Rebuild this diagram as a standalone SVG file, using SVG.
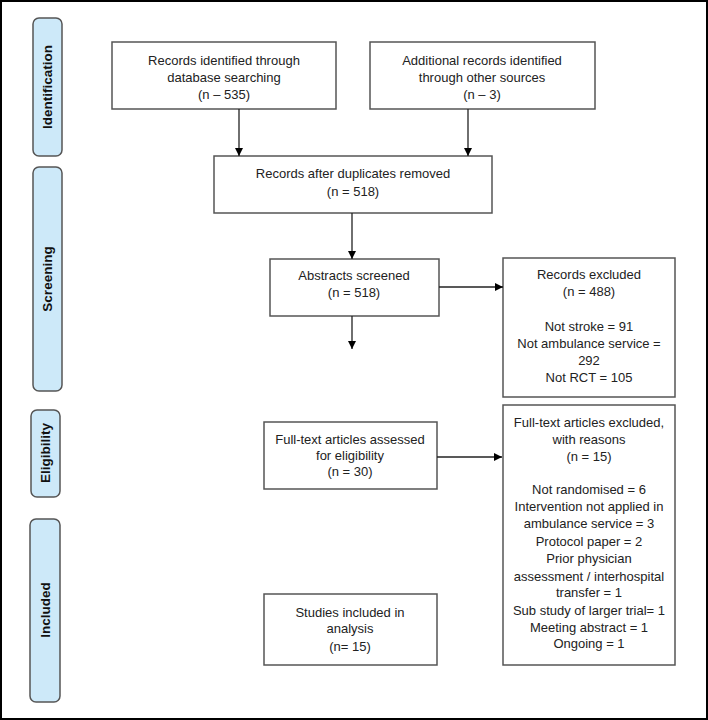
<svg xmlns="http://www.w3.org/2000/svg" width="708" height="720" viewBox="0 0 708 720">
<defs>
<marker id="ah" markerWidth="8" markerHeight="8" refX="8" refY="4" orient="auto" markerUnits="userSpaceOnUse">
<path d="M0,0 L8,4 L0,8 Z" fill="#000"/>
</marker>
<style>
.box{fill:#fff;stroke:#555;stroke-width:1.5}
.side{fill:#cde9f9;stroke:#555;stroke-width:1.5}
.t{font-family:"Liberation Sans",Arial,sans-serif;font-size:13px;fill:#222;text-anchor:middle}
.s{font-family:"Liberation Sans",Arial,sans-serif;font-size:13.5px;font-weight:bold;fill:#111;text-anchor:middle}
.c{stroke:#222;stroke-width:1.3;fill:none;marker-end:url(#ah)}
</style>
</defs>
<rect x="1" y="1" width="706" height="718" fill="#fff" stroke="#000" stroke-width="2"/>
<g id="phase-identification">
<rect class="side" x="33" y="18" width="29" height="138" rx="6"/>
<text class="s" transform="translate(52,87) rotate(-90)">Identification</text>
</g>
<g id="phase-screening">
<rect class="side" x="33" y="167" width="29" height="224" rx="6"/>
<text class="s" transform="translate(52,279) rotate(-90)">Screening</text>
</g>
<g id="phase-eligibility">
<rect class="side" x="31" y="410" width="29" height="87" rx="6"/>
<text class="s" transform="translate(50,453) rotate(-90)">Eligibility</text>
</g>
<g id="phase-included">
<rect class="side" x="30" y="519" width="30" height="183" rx="6"/>
<text class="s" transform="translate(50,610) rotate(-90)">Included</text>
</g>
<g id="n-database">
<rect class="box" x="112" y="42" width="224" height="67"/>
<text class="t" x="224" y="65">Records identified through</text>
<text class="t" x="224" y="82">database searching</text>
<text class="t" x="224" y="99">(n – 535)</text>
</g>
<g id="n-other">
<rect class="box" x="370" y="42" width="225" height="67"/>
<text class="t" x="482" y="65">Additional records identified</text>
<text class="t" x="482" y="82">through other sources</text>
<text class="t" x="482" y="99">(n – 3)</text>
</g>
<g id="n-dedup">
<rect class="box" x="214" y="156" width="278" height="57"/>
<text class="t" x="353" y="178">Records after duplicates removed</text>
<text class="t" x="353" y="196">(n = 518)</text>
</g>
<g id="n-abstracts">
<rect class="box" x="270" y="259" width="169" height="57"/>
<text class="t" x="354" y="280">Abstracts screened</text>
<text class="t" x="354" y="297">(n = 518)</text>
</g>
<g id="n-excluded">
<rect class="box" x="503" y="258" width="172" height="139"/>
<text class="t" x="589" y="279">Records excluded</text>
<text class="t" x="589" y="296">(n = 488)</text>
<text class="t" x="589" y="331">Not stroke = 91</text>
<text class="t" x="589" y="348">Not ambulance service =</text>
<text class="t" x="589" y="365">292</text>
<text class="t" x="589" y="382">Not RCT = 105</text>
</g>
<g id="n-fulltext">
<rect class="box" x="264" y="422" width="173" height="67"/>
<text class="t" x="350" y="444">Full-text articles assessed</text>
<text class="t" x="350" y="460">for eligibility</text>
<text class="t" x="350" y="476">(n = 30)</text>
</g>
<g id="n-ftexcluded">
<rect class="box" x="503" y="405" width="172" height="260"/>
<text class="t" x="589" y="427">Full-text articles excluded,</text>
<text class="t" x="589" y="444">with reasons</text>
<text class="t" x="589" y="461">(n = 15)</text>
<text class="t" x="589" y="494">Not randomised = 6</text>
<text class="t" x="589" y="511">Intervention not applied in</text>
<text class="t" x="589" y="528">ambulance service = 3</text>
<text class="t" x="589" y="546">Protocol paper = 2</text>
<text class="t" x="589" y="563">Prior physician</text>
<text class="t" x="589" y="581">assessment / interhospital</text>
<text class="t" x="589" y="597">transfer = 1</text>
<text class="t" x="589" y="615">Sub study of larger trial= 1</text>
<text class="t" x="589" y="632">Meeting abstract = 1</text>
<text class="t" x="589" y="648">Ongoing = 1</text>
</g>
<g id="n-included">
<rect class="box" x="264" y="594" width="173" height="71"/>
<text class="t" x="350" y="617">Studies included in</text>
<text class="t" x="350" y="633">analysis</text>
<text class="t" x="350" y="651">(n= 15)</text>
</g>
<g id="connectors">
<line class="c" x1="239" y1="109" x2="239" y2="156"/>
<line class="c" x1="468" y1="109" x2="468" y2="156"/>
<line class="c" x1="352" y1="213" x2="352" y2="259"/>
<line class="c" x1="352" y1="316" x2="352" y2="349"/>
<line class="c" x1="439" y1="287" x2="503" y2="287"/>
<line class="c" x1="437" y1="457" x2="502" y2="457"/>
</g>
</svg>
